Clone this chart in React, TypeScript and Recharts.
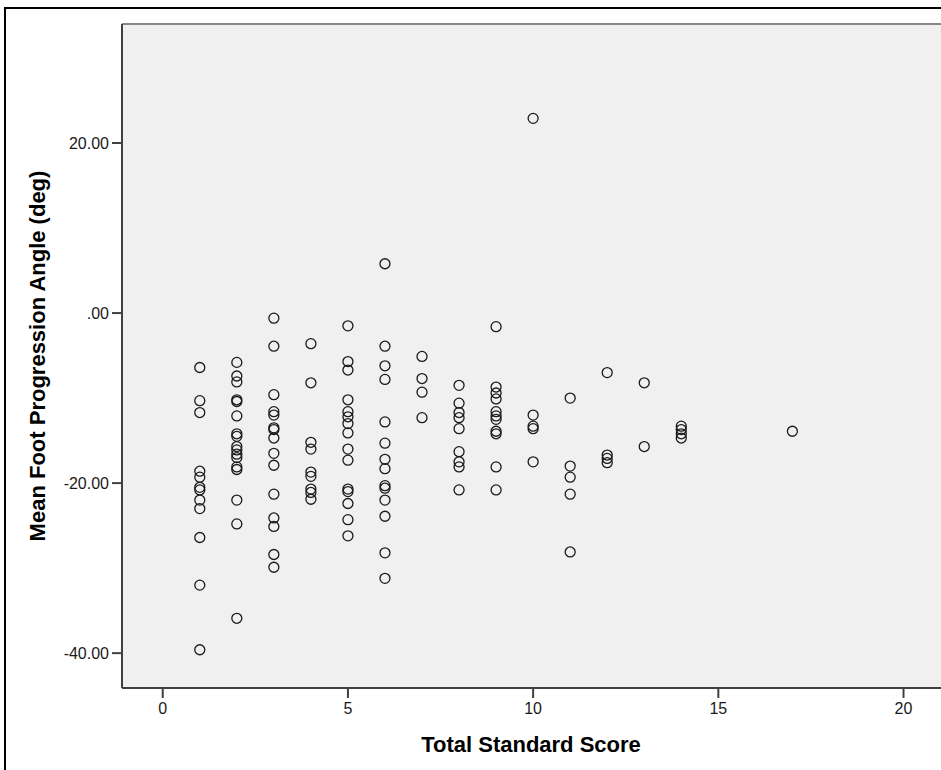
import { ScatterChart, Scatter, XAxis, YAxis, CartesianGrid, ReferenceLine } from 'recharts'

// total standard score groups and the foot progression angles recorded in each
const scores = [1, 2, 3, 4, 5, 6, 7, 8, 9, 10, 11, 12, 13, 14, 17]
const anglesScore1 = [-6.4, -10.3, -11.7, -18.6, -19.3, -20.5, -20.8, -22.0, -23.0, -26.4, -32.0, -39.6]
const anglesScore2 = [-5.8, -7.4, -8.1, -10.2, -10.4, -12.1, -14.2, -14.5, -15.7, -16.1, -16.6, -17.0, -18.1, -18.4, -22.0, -24.8, -35.9]
const anglesScore3 = [-0.6, -3.9, -9.6, -11.6, -12.0, -13.5, -13.7, -14.7, -16.5, -17.9, -21.3, -24.1, -25.1, -28.4, -29.9]
const anglesScore4 = [-3.6, -8.2, -15.2, -16.0, -18.7, -19.2, -20.7, -21.1, -21.9]
const anglesScore5 = [-1.5, -5.7, -6.7, -10.2, -11.6, -12.2, -13.0, -14.1, -16.0, -17.3, -20.7, -21.0, -22.4, -24.3, -26.2]
const anglesScore6 = [5.8, -3.9, -6.2, -7.8, -12.8, -15.3, -17.2, -18.3, -20.3, -20.6, -22.0, -23.9, -28.2, -31.2]
const anglesScore7 = [-5.1, -7.7, -9.3, -12.3]
const anglesScore8 = [-8.5, -10.6, -11.7, -12.3, -13.6, -16.3, -17.5, -18.1, -20.8]
const anglesScore9 = [-1.6, -8.7, -9.4, -10.1, -11.6, -12.1, -12.5, -13.9, -14.2, -18.1, -20.8]
const anglesScore10 = [22.9, -12.0, -13.3, -13.6, -17.5]
const anglesScore11 = [-10.0, -18.0, -19.3, -21.3, -28.1]
const anglesScore12 = [-7.0, -16.7, -17.1, -17.6]
const anglesScore13 = [-8.2, -15.7]
const anglesScore14 = [-13.3, -13.7, -14.2, -14.7]
const anglesScore17 = [-13.9]

const xTicks = [0, 5, 10, 15, 20]
const yTicks = [-40, -20, 0, 20]

const angleGroups = [
  anglesScore1, anglesScore2, anglesScore3, anglesScore4, anglesScore5,
  anglesScore6, anglesScore7, anglesScore8, anglesScore9, anglesScore10,
  anglesScore11, anglesScore12, anglesScore13, anglesScore14, anglesScore17,
]

const points = scores.flatMap((score, i) =>
  angleGroups[i].map(angle => ({ score, angle }))
)

const FONT = 'Arial, "Liberation Sans", sans-serif'

const formatAngle = (v: number) => (v === 0 ? '.00' : v.toFixed(2))

function OpenCircle(props: any) {
  const { cx, cy } = props
  return <circle cx={cx} cy={cy} r={5} fill="none" stroke="#1a1a1a" strokeWidth={1.3} />
}

function YTitle() {
  return (
    <text
      x={45}
      y={356}
      transform="rotate(-90 45 356)"
      textAnchor="middle"
      fontFamily={FONT}
      fontWeight="bold"
      fontSize={22}
      fill="#000"
    >
      Mean Foot Progression Angle (deg)
    </text>
  )
}

function XTitle() {
  return (
    <text
      x={531}
      y={752}
      textAnchor="middle"
      fontFamily={FONT}
      fontWeight="bold"
      fontSize={22}
      fill="#000"
    >
      Total Standard Score
    </text>
  )
}

export default function App() {
  return (
    <div
      style={{
        position: 'fixed',
        left: 0,
        top: 0,
        width: 941,
        height: 770,
        overflow: 'hidden',
        background: '#fff',
      }}
    >
      {/* outer chart frame, its right and bottom edges run off the page */}
      <div
        style={{
          position: 'absolute',
          left: 4,
          top: 7,
          width: 1200,
          height: 1200,
          border: '2px solid #000',
        }}
      />
      <div style={{ position: 'absolute', left: 0, top: 0 }}>
        <ScatterChart width={945} height={770} margin={{ top: 24, right: 0, bottom: 0, left: 0 }}>
          <CartesianGrid fill="#f0f0f0" stroke="none" horizontal={false} vertical={false} />
          <XAxis
            type="number"
            dataKey="score"
            domain={[-1.1, 21.12]}
            allowDataOverflow
            ticks={xTicks}
            height={82}
            tickSize={10}
            tickMargin={5}
            stroke="#404040"
            strokeWidth={2}
            tick={{ fontFamily: FONT, fontSize: 16, fill: '#1a1a1a' }}
            label={<XTitle />}
          />
          <YAxis
            type="number"
            dataKey="angle"
            domain={[-44.1, 34]}
            allowDataOverflow
            ticks={yTicks}
            width={122}
            tickSize={10}
            tickMargin={3}
            stroke="#404040"
            strokeWidth={2}
            tickFormatter={formatAngle}
            tick={{ fontFamily: FONT, fontSize: 16, fill: '#1a1a1a' }}
            label={<YTitle />}
          />
          <ReferenceLine y={34} stroke="#888" strokeWidth={2} />
          <Scatter data={points} shape={OpenCircle} isAnimationActive={false} />
        </ScatterChart>
      </div>
    </div>
  )
}
